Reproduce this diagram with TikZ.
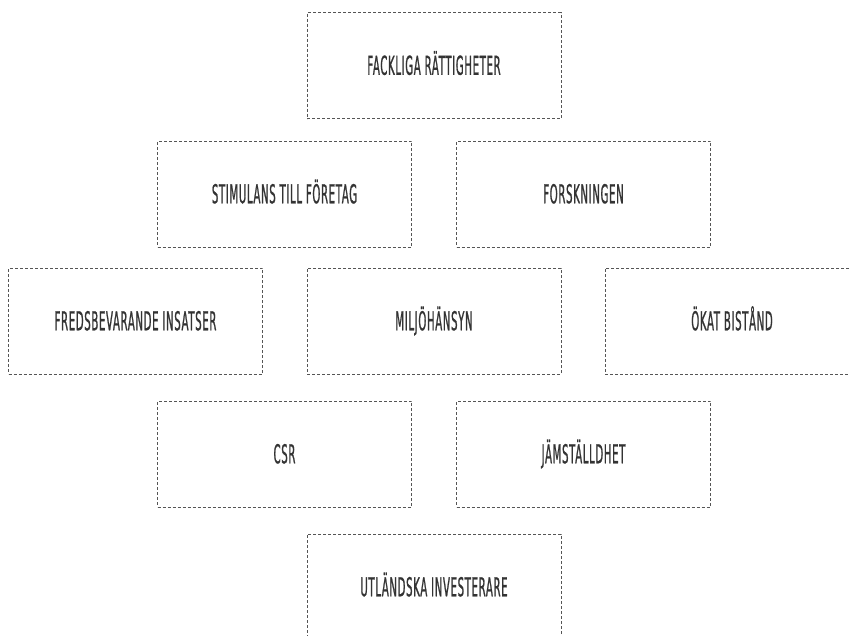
\documentclass[tikz,border=0pt]{standalone}
\usepackage{fontspec}
\newfontfamily\boxfont[FakeStretch=0.39,FakeBold=0.8,LetterSpace=2.5]{DejaVu Sans}
\definecolor{linegray}{HTML}{555555}
\definecolor{textgray}{HTML}{333333}
\tikzset{
  card/.style={draw=linegray, line width=0.9pt, dash pattern=on 3pt off 2pt,
    minimum width=254pt, minimum height=106pt, inner sep=0pt,
    text height=18.5pt, text depth=0pt,
    font=\boxfont\fontsize{26}{26}\selectfont, text=textgray}
}
\begin{document}
\begin{tikzpicture}[x=1pt,y=-1pt]
\useasboundingbox (0,0) rectangle (850,635);
\clip (0,0) rectangle (850,635);
\node[card] (fack) at (434,65.5) {FACKLIGA RÄTTIGHETER};
\node[card] (stim) at (284.5,194) {STIMULANS TILL FÖRETAG};
\node[card] (fors) at (583.5,194) {FORSKNINGEN};
\node[card] (freds) at (135.5,321) {FREDSBEVARANDE INSATSER};
\node[card] (milj) at (434,321) {MILJÖHÄNSYN};
\node[card] (okat) at (732,321) {ÖKAT BISTÅND};
\node[card] (csr) at (284.5,454) {CSR};
\node[card] (jams) at (583.5,454) {JÄMSTÄLLDHET};
\node[card] (utl) at (434,587) {UTLÄNDSKA INVESTERARE};
\end{tikzpicture}
\end{document}
